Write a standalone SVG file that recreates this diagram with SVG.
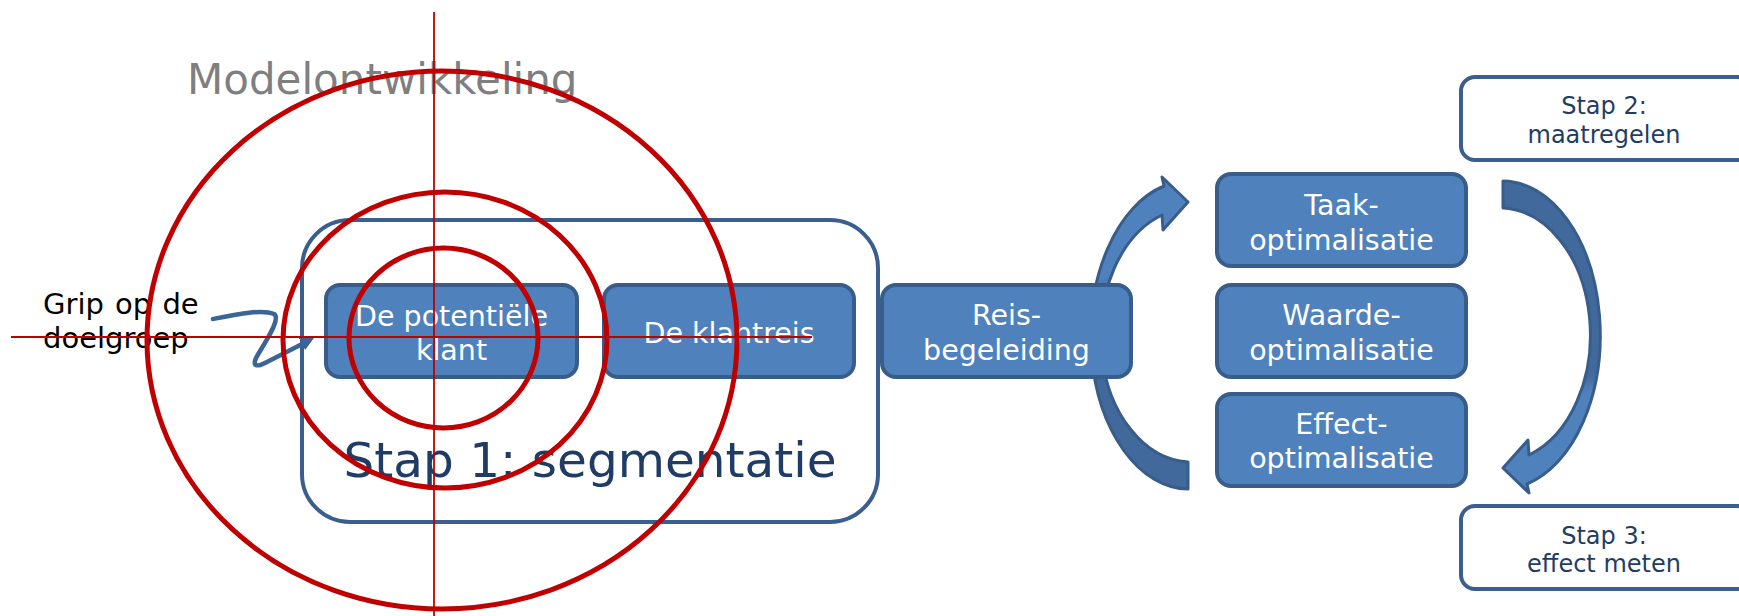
<svg xmlns="http://www.w3.org/2000/svg" width="1739" height="616" viewBox="0 0 1739 616">
<style>
.node rect{fill:#4F81BD;stroke:#385D8A;stroke-width:4}
.node text{fill:#FFFFFF;font-family:"DejaVu Sans",Verdana,sans-serif;font-size:28.5px;text-anchor:middle}
.step rect{fill:#FFFFFF;stroke:#3A5F8F;stroke-width:4}
.step text{fill:#1F3D64;font-family:"DejaVu Sans",Verdana,sans-serif;font-size:24px;text-anchor:middle}
.red{fill:none;stroke:#C00000}
.barrow{stroke:#385D8A;stroke-width:3;stroke-linejoin:round;fill:url(#ag)}
</style>
<defs>
<linearGradient id="ag" x1="0" y1="0" x2="0" y2="1">
<stop offset="0" stop-color="#4F81BD"/>
<stop offset="0.32" stop-color="#4F81BD"/>
<stop offset="0.38" stop-color="#41699C"/>
<stop offset="1" stop-color="#41699C"/>
</linearGradient>
<marker id="sq" viewBox="0 0 10 10" refX="5" refY="5" markerWidth="3" markerHeight="3" orient="auto">
<path d="M0,0 L10,5 L0,10 Z" fill="#3B6596"/>
</marker>
</defs>

<text id="title" x="187" y="94" font-family="DejaVu Sans, Verdana, sans-serif" font-size="42" fill="#7F7F7F">Modelontwikkeling</text>

<g id="stap1">
<rect x="302" y="220" width="576" height="302" rx="48" fill="#FFFFFF" stroke="#3A5F8F" stroke-width="4"/>
<text x="590" y="477" font-family="DejaVu Sans, Verdana, sans-serif" font-size="48.5" fill="#1F3D64" text-anchor="middle">Stap 1: segmentatie</text>
</g>

<g id="connectors">
<path id="arrow-left" class="barrow" d="M1188,489 A98 154 0 0 1 1164,186 L1162,177 L1188,202 L1163,230 L1162,215 A91 127 0 0 0 1188,462 Z"/>
<path id="arrow-right" class="barrow" transform="rotate(180 1345.5 335)" d="M1188,489 A98 154 0 0 1 1164,186 L1162,177 L1188,202 L1163,230 L1162,215 A91 127 0 0 0 1188,462 Z"/>
<path id="squiggle" d="M213,319 C238,314 262,309 274,314 C282,319 263,345 256,358 C252,367 258,367 267,362 L308,341" fill="none" stroke="#3B6596" stroke-width="4.5" stroke-linecap="round" stroke-linejoin="round" marker-end="url(#sq)"/>
</g>

<g id="n-potentiele" class="node">
<rect x="326" y="285" width="251" height="92" rx="14"/>
<text x="451.5" y="326">De potentiële</text>
<text x="451.5" y="360">klant</text>
</g>
<g id="n-klantreis" class="node">
<rect x="604" y="285" width="250" height="92" rx="14"/>
<text x="729" y="343">De klantreis</text>
</g>
<g id="n-reis" class="node">
<rect x="882" y="285" width="249" height="92" rx="14"/>
<text x="1006.5" y="325">Reis-</text>
<text x="1006.5" y="360">begeleiding</text>
</g>
<g id="n-taak" class="node">
<rect x="1217" y="174" width="249" height="92" rx="14"/>
<text x="1341.5" y="215">Taak-</text>
<text x="1341.5" y="250">optimalisatie</text>
</g>
<g id="n-waarde" class="node">
<rect x="1217" y="285" width="249" height="92" rx="14"/>
<text x="1341.5" y="325">Waarde-</text>
<text x="1341.5" y="360">optimalisatie</text>
</g>
<g id="n-effect" class="node">
<rect x="1217" y="394" width="249" height="92" rx="14"/>
<text x="1341.5" y="434">Effect-</text>
<text x="1341.5" y="468">optimalisatie</text>
</g>

<g id="stap2" class="step">
<rect x="1461" y="77" width="290" height="83" rx="14"/>
<text x="1604" y="114">Stap 2:</text>
<text x="1604" y="143">maatregelen</text>
</g>
<g id="stap3" class="step">
<rect x="1461" y="506" width="290" height="83" rx="14"/>
<text x="1604" y="544">Stap 3:</text>
<text x="1604" y="572">effect meten</text>
</g>

<g id="grip">
<text font-family="DejaVu Sans, Verdana, sans-serif" font-size="29" fill="#000000"><tspan x="43" y="314" word-spacing="2">Grip op de</tspan><tspan x="43" y="348">doelgroep</tspan></text>
</g>

<g id="target">
<ellipse class="red" cx="442" cy="340" rx="295" ry="269" stroke-width="5"/>
<ellipse class="red" cx="445" cy="340" rx="162" ry="148" stroke-width="5"/>
<ellipse class="red" cx="443.5" cy="338" rx="94.5" ry="90" stroke-width="5"/>
<line class="red" x1="434" y1="12" x2="434" y2="616" stroke-width="1.8"/>
<line class="red" x1="11" y1="337" x2="812" y2="337" stroke-width="1.8"/>
</g>
</svg>
